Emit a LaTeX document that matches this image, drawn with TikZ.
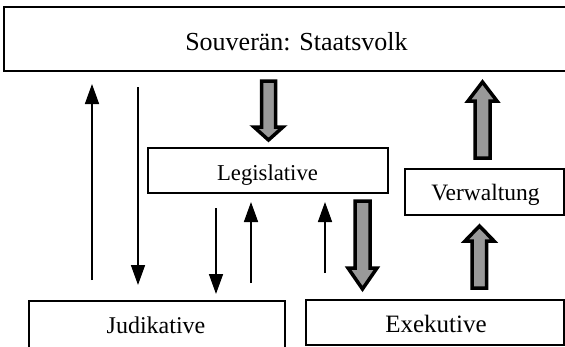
\documentclass[tikz,border=0pt]{standalone}
\usepackage{fontspec}
\setmainfont{Liberation Serif}
\usetikzlibrary{arrows.meta}
\tikzset{
  box/.style={draw=black, line width=1.5pt, inner sep=0pt, fill=white},
  lbl/.style={anchor=base, inner sep=0pt},
  thinarr/.style={draw=black, line width=1.6pt, -{Triangle[length=20pt,width=14pt]}},
  fatarr/.style={draw=black, fill=black!40, line width=3.5pt, line join=miter}
}
\begin{document}
\begin{tikzpicture}[x=1pt,y=-1pt]
\useasboundingbox (0,0) rectangle (565,346);
\clip (0,0) rectangle (565,346);
\fill[white] (0,0) rectangle (565,346);
% boxes
\node[box, line width=2pt, minimum width=566pt, minimum height=64pt] (top) at (287,39) {};
\node[box, minimum width=240pt, minimum height=45pt] (leg) at (268,170.5) {};
\node[box, minimum width=159pt, minimum height=46pt] (verw) at (484.5,192) {};
\node[box, minimum width=256pt, minimum height=59pt] (jud) at (157,330.5) {};
\node[box, minimum width=258pt, minimum height=45pt] (exe) at (435,322.5) {};
% labels
\node[lbl, font=\fontsize{26}{30}\selectfont] (ttop) at (296.5,50) {Souverän: Staatsvolk};
\node[lbl, font=\fontsize{22.7}{27}\selectfont] (tleg) at (267.5,180) {Legislative};
\node[lbl, font=\fontsize{23.5}{28}\selectfont] (tverw) at (485.5,200) {Verwaltung};
\node[lbl, font=\fontsize{24}{28}\selectfont] (tjud) at (156,333) {Judikative};
\node[lbl, font=\fontsize{25}{30}\selectfont] (texe) at (436,332) {Exekutive};
% thin arrow end points
\coordinate (a1s) at (92,280);  \coordinate (a1e) at (92,84);
\coordinate (a2s) at (138,87);  \coordinate (a2e) at (138,285);
\coordinate (a3s) at (216,208); \coordinate (a3e) at (216,294);
\coordinate (a4s) at (251,283); \coordinate (a4e) at (251,202);
\coordinate (a5s) at (325,273); \coordinate (a5e) at (325,202);
\draw[thinarr] (a1s) -- (a1e);
\draw[thinarr] (a2s) -- (a2e);
\draw[thinarr] (a3s) -- (a3e);
\draw[thinarr] (a4s) -- (a4e);
\draw[thinarr] (a5s) -- (a5e);
% thick arrows
% A: top -> Legislative (down)
\draw[fatarr] (261.5,81) -- (275.5,81) -- (275.5,127) -- (283,127) -- (268.5,140) -- (254,127) -- (261.5,127) -- cycle;
% B: Legislative -> Exekutive (down)
\draw[fatarr] (355,201) -- (370,201) -- (370,268) -- (377,268) -- (362.5,289) -- (348,268) -- (355,268) -- cycle;
% C: Verwaltung -> top (up)
\draw[fatarr] (475,158) -- (490,158) -- (490,101) -- (497,101) -- (482.5,82) -- (468,101) -- (475,101) -- cycle;
% D: Exekutive -> Verwaltung (up)
\draw[fatarr] (472,288) -- (486.5,288) -- (486.5,241) -- (494,241) -- (479.5,226) -- (465,241) -- (472,241) -- cycle;
\end{tikzpicture}
\end{document}
